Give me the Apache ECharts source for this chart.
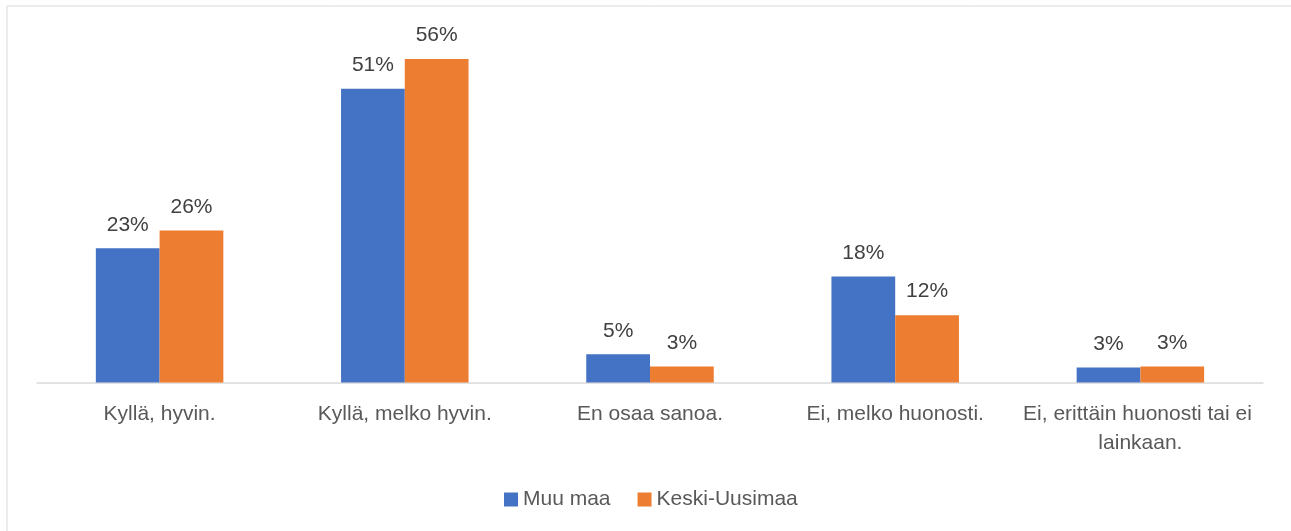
<!DOCTYPE html>
<html>
<head>
<meta charset="utf-8">
<script src="https://cdn.jsdelivr.net/npm/echarts@6/dist/echarts.min.js"></script>
<style>
html, body { margin: 0; padding: 0; background: #fff; }
#chart { width: 1291px; height: 531px; }
</style>
</head>
<body>
<div id="chart"></div>
<script>
var categories = ['Kyllä, hyvin.', 'Kyllä, melko hyvin.', 'En osaa sanoa.', 'Ei, melko huonosti.', 'Ei, erittäin huonosti tai ei lainkaan.'];
var muuMaa = [23.3, 51.0, 4.9, 18.4, 2.6];
var keskiUusimaa = [26.4, 56.2, 2.8, 11.7, 2.8];
var seriesNames = ['Muu maa', 'Keski-Uusimaa'];
var colors = ['#4472C4', '#ED7D31'];

var FONT = 'Liberation Sans';
var myChart = echarts.init(document.getElementById('chart'));

function pctLabel(p) {
	return Math.round(p.value) + '%';
}

var barLabel = {
	show: true,
	position: 'top',
	distance: 13,
	color: '#404040',
	fontFamily: FONT,
	fontSize: 21,
	formatter: pctLabel
};

var option = {
	backgroundColor: '#fff',
	animation: false,
	color: colors,
	graphic: [{
		type: 'rect',
		shape: { x: 7, y: 6, width: 1400, height: 700 },
		style: { fill: 'none', stroke: '#d9d9d9', lineWidth: 1 },
		silent: true
	}],
	legend: {
		data: seriesNames,
		top: 484,
		left: 499,
		icon: 'rect',
		itemWidth: 14,
		itemHeight: 14,
		itemGap: 27,
		textStyle: { color: '#595959', fontFamily: FONT, fontSize: 21 }
	},
	grid: { left: 37, right: 28, top: 37, bottom: 148.5 },
	xAxis: {
		type: 'category',
		data: categories,
		axisLine: { lineStyle: { color: '#d9d9d9', width: 1.5 } },
		axisTick: { show: false },
		axisLabel: {
			color: '#595959',
			fontFamily: FONT,
			fontSize: 21,
			margin: 17,
			lineHeight: 29,
			width: 250,
			overflow: 'break',
			interval: 0
		}
	},
	yAxis: {
		type: 'value',
		min: 0,
		max: 60,
		show: false,
		splitLine: { show: false }
	},
	series: [{
		name: seriesNames[0],
		type: 'bar',
		data: muuMaa,
		barGap: '0%',
		barCategoryGap: '48%',
		label: barLabel
	}, {
		name: seriesNames[1],
		type: 'bar',
		data: keskiUusimaa,
		barGap: '0%',
		barCategoryGap: '48%',
		label: barLabel
	}]
};

myChart.setOption(option);
</script>
</body>
</html>
